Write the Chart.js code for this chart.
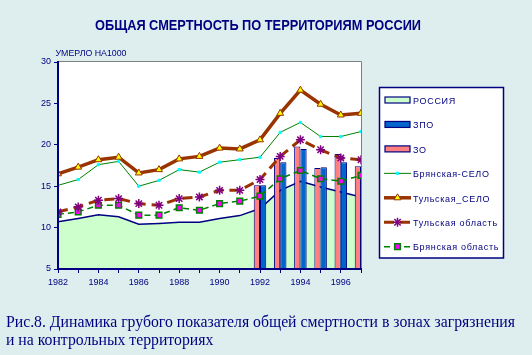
<!DOCTYPE html>
<html><head><meta charset="utf-8">
<script src="https://cdn.jsdelivr.net/npm/chart.js@4/dist/chart.umd.min.js"></script>
<style>html,body{margin:0;padding:0;background:#DEEEEE;}canvas{display:block}</style>
</head><body>
<canvas id="c" width="532" height="355"></canvas>
<script>
const years = ['1982','1983','1984','1985','1986','1987','1988','1989','1990','1991','1992','1993','1994','1995','1996','1997'];
const russia        = [10.7, 11.1, 11.55, 11.3, 10.4, 10.5, 10.65, 10.65, 11.1, 11.45, 12.3, 14.5, 15.6, 14.9, 14.3, 13.7];
const zo            = [null, null, null, null, null, null, null, null, null, null, 15.1, 18.4, 19.8, 17.2, 18.9, 17.4];
const zpo           = [null, null, null, null, null, null, null, null, null, null, 15.1, 17.9, 19.5, 17.3, 17.9, null];
const bryanskSelo   = [15.1, 15.8, 17.6, 18.0, 15.0, 15.7, 17.0, 16.7, 17.9, 18.2, 18.5, 21.5, 22.7, 21.0, 21.0, 21.6];
const tulaSelo      = [16.5, 17.3, 18.2, 18.5, 16.6, 17.0, 18.3, 18.6, 19.6, 19.5, 20.6, 23.8, 26.6, 24.9, 23.6, 23.8];
const tulaOblast    = [11.9, 12.5, 13.3, 13.5, 12.9, 12.7, 13.5, 13.7, 14.5, 14.5, 15.8, 18.6, 20.6, 19.4, 18.4, 18.2];
const bryanskOblast = [11.6, 11.9, 12.7, 12.7, 11.5, 11.5, 12.4, 12.1, 12.9, 13.2, 13.8, 15.9, 16.9, 15.9, 15.6, 16.3];
const yTicks = [5, 10, 15, 20, 25, 30];
const titleText = 'ОБЩАЯ СМЕРТНОСТЬ ПО ТЕРРИТОРИЯМ РОССИИ';
const yTitleText = 'УМЕРЛО НА1000';
const captionLines = ['Рис.8. Динамика грубого показателя общей смертности в зонах загрязнения', 'и на контрольных территориях'];
const legendOrder = ['РОССИЯ', 'ЗПО', 'ЗО', 'Брянская-СЕЛО', 'Тульская_СЕЛО', 'Тульская область', 'Брянская область'];

const NAVY = '#000080';
const BG = '#DEEEEE';
const SANS = 'Arial, "Liberation Sans", sans-serif';
const SERIF = '"Times New Roman", "Liberation Serif", serif';

function fitText(ctx, text, x, y, w, align) {
  const m = ctx.measureText(text).width;
  const s = w / m;
  ctx.save();
  ctx.translate(x, y);
  ctx.scale(s, 1);
  ctx.textAlign = 'left';
  ctx.fillText(text, align === 'center' ? -m / 2 : 0, 0);
  ctx.restore();
  return s;
}

const decor = {
  id: 'decor',
  beforeDraw(chart) {
    const ctx = chart.ctx, a = chart.chartArea;
    ctx.save();
    ctx.fillStyle = BG;
    ctx.fillRect(0, 0, chart.width, chart.height);
    ctx.fillStyle = '#FFFFFF';
    ctx.fillRect(a.left, a.top, a.right - a.left, a.bottom - a.top);
    ctx.restore();
  },
  afterDatasetsDraw(chart) {
    const ctx = chart.ctx, a = chart.chartArea;
    ctx.save();
    ctx.strokeStyle = '#808080';
    ctx.lineWidth = 1;
    ctx.beginPath();
    ctx.moveTo(a.left, a.top - 0.5);
    ctx.lineTo(a.right + 0.5, a.top - 0.5);
    ctx.lineTo(a.right + 0.5, a.bottom);
    ctx.stroke();
    ctx.restore();
  },
  afterDraw(chart) {
    const ctx = chart.ctx;
    ctx.save();
    ctx.fillStyle = NAVY;
    ctx.textBaseline = 'alphabetic';
    // title
    ctx.font = 'bold 14px ' + SANS;
    fitText(ctx, titleText, 258, 29.5, 326, 'center');
    // y-axis unit label
    ctx.font = '9px ' + SANS;
    fitText(ctx, yTitleText, 55.5, 56, 71, 'left');
    // caption
    ctx.font = '16px ' + SERIF;
    const m1 = ctx.measureText(captionLines[0]).width;
    const s = 509 / m1;
    ctx.save(); ctx.translate(6, 327); ctx.scale(s, 1); ctx.fillText(captionLines[0], 0, 0); ctx.restore();
    ctx.save(); ctx.translate(6, 344.5); ctx.scale(s, 1); ctx.fillText(captionLines[1], 0, 0); ctx.restore();

    // legend
    const L = 379.5, T = 87.5, R = 503.5, B = 258;
    ctx.fillStyle = '#FFFFFF';
    ctx.fillRect(L, T, R - L, B - T);
    ctx.strokeStyle = NAVY;
    ctx.lineWidth = 1.5;
    ctx.strokeRect(L, T, R - L, B - T);
    const dsets = chart.data.datasets;
    legendOrder.forEach((name, i) => {
      const ds = dsets.find(d => d.label === name);
      const base = 103.7 + i * 24.45;
      const cy = base - 3.7;
      if (ds.type !== 'line' || ds.fill) {
        ctx.fillStyle = ds.backgroundColor;
        ctx.fillRect(385, cy - 3, 25, 6);
        ctx.strokeStyle = ds.borderColor; ctx.lineWidth = 1.2; ctx.setLineDash([]);
        ctx.strokeRect(385, cy - 3, 25, 6);
      } else {
        ctx.strokeStyle = ds.borderColor;
        ctx.lineWidth = ds.borderWidth;
        ctx.setLineDash(ds.borderDash || []);
        ctx.beginPath(); ctx.moveTo(384, cy); ctx.lineTo(411, cy); ctx.stroke();
        ctx.setLineDash([]);
        ctx.fillStyle = ds.pointBackgroundColor;
        ctx.strokeStyle = ds.pointBorderColor;
        ctx.lineWidth = ds.pointBorderWidth;
        Chart.helpers.drawPoint(ctx, {pointStyle: ds.pointStyle, radius: ds.pointRadius, rotation: 0, borderWidth: ds.pointBorderWidth}, 397.5, cy);
      }
      ctx.fillStyle = NAVY;
      ctx.font = '9px ' + SANS;
      ctx.letterSpacing = '0.7px';
      ctx.textAlign = 'left';
      ctx.fillText(name, 413, base);
      ctx.letterSpacing = '0px';
    });
    ctx.restore();
  }
};

const lineBase = {type: 'line', tension: 0, fill: false, clip: 0, order: 1};

new Chart(document.getElementById('c'), {
  type: 'bar',
  data: {
    labels: years,
    datasets: [
      {type: 'line', label: 'РОССИЯ', data: russia, fill: 'start', backgroundColor: '#CCFFCC', borderColor: NAVY, borderWidth: 1.5, pointRadius: 0, tension: 0, clip: 0, order: 10},
      {type: 'bar', label: 'ЗО', data: zo, backgroundColor: '#FF8080', borderColor: NAVY, borderWidth: 1, categoryPercentage: 0.62, barPercentage: 1.0, clip: 0, order: 5},
      {type: 'bar', label: 'ЗПО', data: zpo, backgroundColor: '#0066CC', borderColor: NAVY, borderWidth: 1, categoryPercentage: 0.62, barPercentage: 1.0, clip: 0, order: 5},
      {...lineBase, label: 'Брянская-СЕЛО', data: bryanskSelo, borderColor: '#008000', borderWidth: 1, pointStyle: 'rect', pointRadius: 1.6, pointBackgroundColor: '#00FFFF', pointBorderColor: '#00FFFF', pointBorderWidth: 1},
      {...lineBase, label: 'Тульская_СЕЛО', data: tulaSelo, borderColor: '#993300', borderWidth: 3.5, pointStyle: 'triangle', pointRadius: 4, pointBackgroundColor: '#FFFF00', pointBorderColor: '#993300', pointBorderWidth: 1},
      {...lineBase, label: 'Тульская область', data: tulaOblast, borderColor: '#993300', borderWidth: 3, borderDash: [10, 6], pointStyle: 'star', pointRadius: 4.5, pointBackgroundColor: '#800080', pointBorderColor: '#800080', pointBorderWidth: 1.5},
      {...lineBase, label: 'Брянская область', data: bryanskOblast, borderColor: '#008000', borderWidth: 1.5, borderDash: [6, 4], pointStyle: 'rect', pointRadius: 4, pointBackgroundColor: '#FF00FF', pointBorderColor: '#008000', pointBorderWidth: 1.5}
    ]
  },
  options: {
    responsive: false,
    animation: false,
    devicePixelRatio: 1,
    layout: {padding: {left: 38, top: 62, right: 171, bottom: 66}},
    plugins: {legend: {display: false}, title: {display: false}, tooltip: {enabled: false}},
    scales: {
      x: {
        offset: false,
        grid: {offset: false, drawOnChartArea: false, drawTicks: true, tickLength: 4, color: NAVY, lineWidth: 1},
        border: {display: true, color: NAVY, width: 2, z: 1},
        ticks: {autoSkip: false, maxRotation: 0, minRotation: 0, padding: 4, color: NAVY, font: {family: SANS, size: 9},
          callback: (v, i) => (i % 2 === 0 ? years[i] : '')},
        afterFit: s => { s.height = 20; }
      },
      y: {
        min: 5, max: 30,
        afterBuildTicks: s => { s.ticks = yTicks.map(v => ({value: v})); },
        grid: {drawOnChartArea: false, drawTicks: true, tickLength: 4, color: NAVY, lineWidth: 1},
        border: {display: true, color: NAVY, width: 2, z: 1},
        ticks: {padding: 3, color: NAVY, font: {family: SANS, size: 9}},
        afterFit: s => { s.width = 20; }
      }
    }
  },
  plugins: [decor]
});
</script>
</body></html>
